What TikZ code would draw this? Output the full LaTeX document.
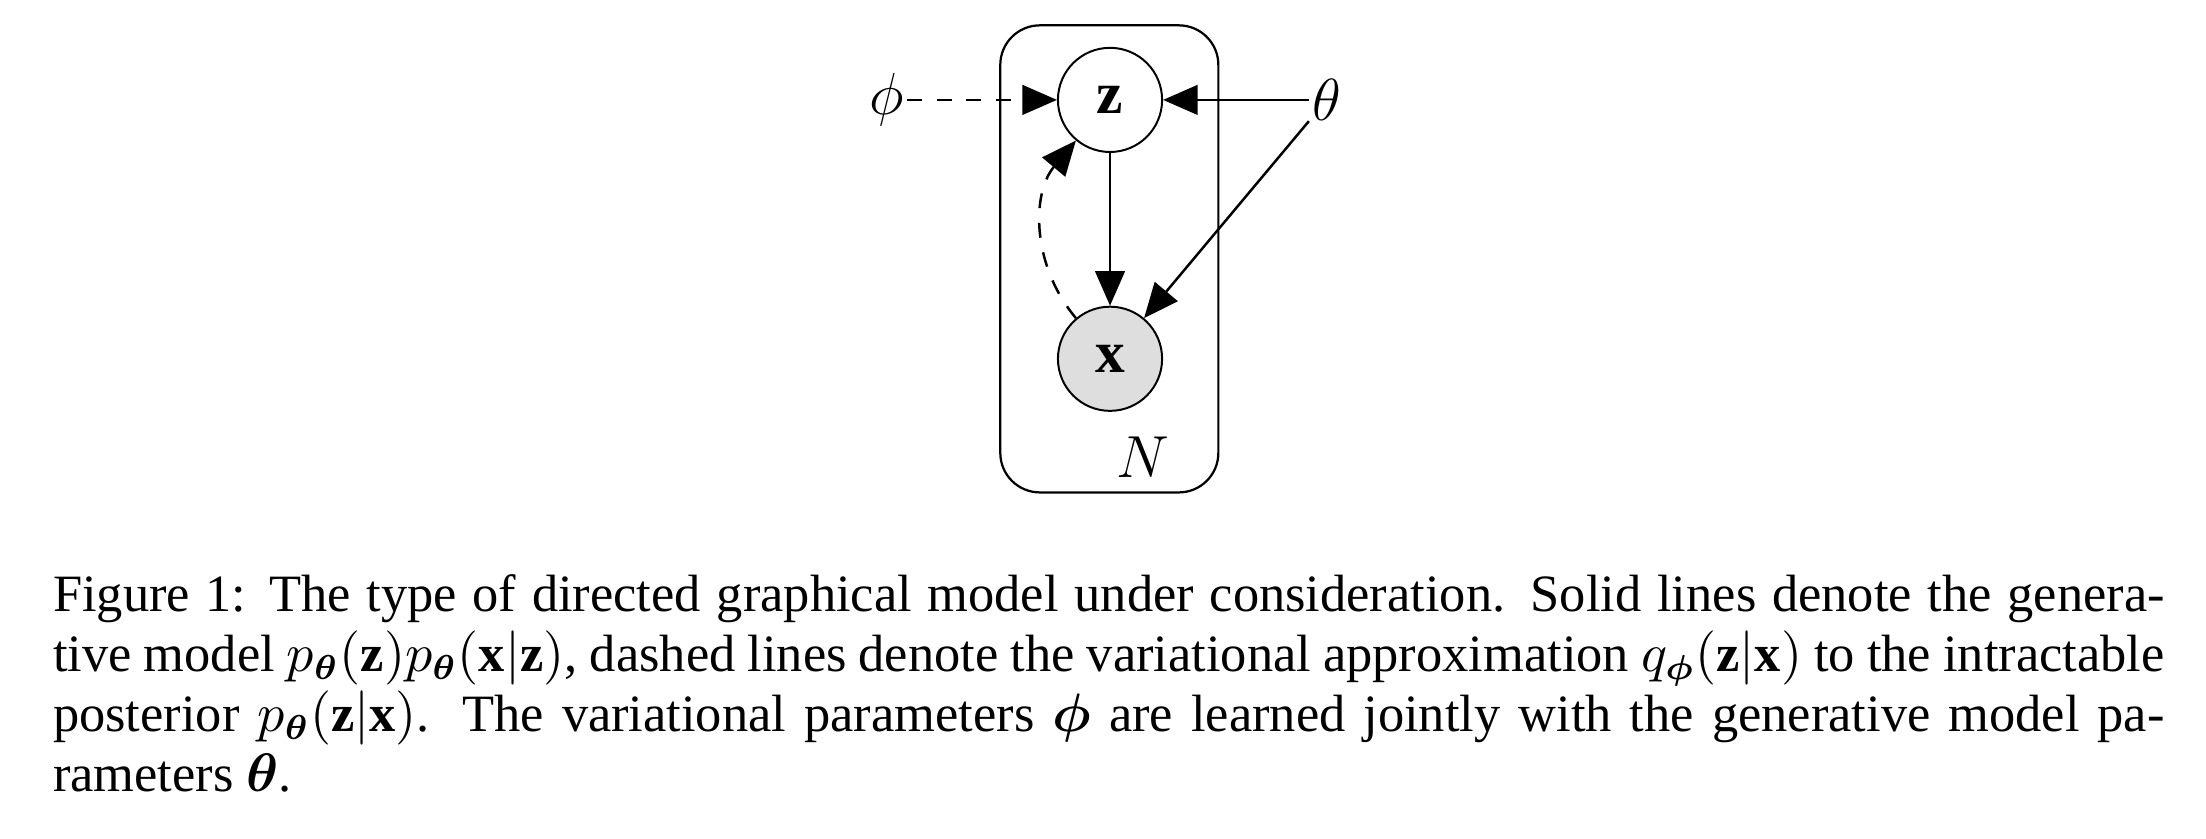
\documentclass[tikz,border=0pt]{standalone}
\usepackage{amsmath,bm}
\usepackage{fontspec}
\setmainfont{Liberation Serif}
\usetikzlibrary{arrows.meta}
\begin{document}
\begin{tikzpicture}[x=0.01cm,y=-0.01cm,
  var/.style={circle,draw,minimum size=0.74cm,inner sep=0pt,font=\large},
  arr/.style={-{Triangle[length=7pt,width=6pt]},line width=0.5pt}]
\useasboundingbox (0,0) rectangle (1568,596);
\draw[rounded corners=8pt,line width=0.45pt] (711,18) rectangle (866,350);
\node[var] (z) at (789,71) {$\mathbf{z}$};
\node[var,fill=black!13] (x) at (789,255) {$\mathbf{x}$};
\node (N) at (812,325) {\large $N$};
\node[inner sep=0.5pt] (phi) at (630,71) {\large $\phi$};
\node[inner sep=0.5pt] (theta) at (943,71) {\large $\theta$};
\draw[arr,dashed] (phi) -- (z);
\draw[arr] (theta) -- (z);
\draw[arr] (theta) -- (x);
\draw[arr] (z) -- (x);
\draw[arr,dashed] (x) to[bend left=40] (z);
\node[anchor=north west,inner sep=0pt,text width=15cm,align=justify,font=\fontsize{10.6}{12.1}\selectfont] (cap) at (37,408)
{Figure 1: The type of directed graphical model under consideration. Solid lines denote the generative model $p_{\bm\theta}(\mathbf{z})p_{\bm\theta}(\mathbf{x}|\mathbf{z})$, dashed lines denote the variational approximation $q_{\bm\phi}(\mathbf{z}|\mathbf{x})$ to the intractable\linebreak posterior $p_{\bm\theta}(\mathbf{z}|\mathbf{x})$. The variational parameters $\bm\phi$ are learned jointly with the generative model pa-\linebreak rameters $\bm\theta$.};
\end{tikzpicture}
\end{document}
